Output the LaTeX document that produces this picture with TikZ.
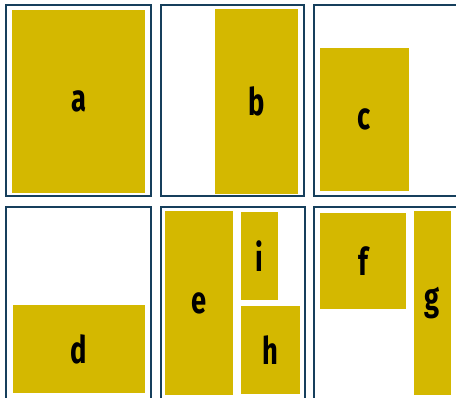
\documentclass[tikz,border=0pt]{standalone}
\usepackage{fontspec}
\newfontfamily\labfont[FakeStretch=0.72]{Fira Sans}
\definecolor{framecol}{HTML}{163F5C}
\definecolor{boxcol}{HTML}{D4B800}
\begin{document}
\begin{tikzpicture}[x=1pt,y=-1pt,
  frame/.style={draw=framecol,line width=2.5pt},
  blk/.style={fill=boxcol,draw=none,inner sep=0pt,font=\labfont\bfseries\fontsize{38}{38}\selectfont,text=black},
]
\useasboundingbox (0,0) rectangle (456,397);
\clip (0,0) rectangle (456,397);
% frames
\draw[frame] (6,5) rectangle (151,196);
\draw[frame] (161,5) rectangle (304,196);
\draw[frame] (314,5) rectangle (459,196);
\draw[frame] (6,207) rectangle (151,400);
\draw[frame] (161,207) rectangle (305,400);
\draw[frame] (314,207) rectangle (459,400);
% blocks
\node[blk,minimum width=133pt,minimum height=183pt] (a) at (78.5,101.5) {a};
\node[blk,minimum width=83pt,minimum height=185pt] (b) at (256.5,101.5) {b};
\node[blk,minimum width=89pt,minimum height=143pt] (c) at (364.5,119.5) {c};
\node[blk,minimum width=132pt,minimum height=88pt] (d) at (79,349) {d};
\node[blk,minimum width=68pt,minimum height=184pt] (e) at (199,303) {e};
\node[blk,minimum width=37pt,minimum height=88pt] (i) at (259.5,256) {i};
\node[blk,minimum width=59pt,minimum height=88pt] (h) at (270.5,350) {h};
\node[blk,minimum width=86pt,minimum height=96pt] (f) at (363,261) {f};
\node[blk,minimum width=37pt,minimum height=184pt] (g) at (432.5,303) {g};
\end{tikzpicture}
\end{document}
